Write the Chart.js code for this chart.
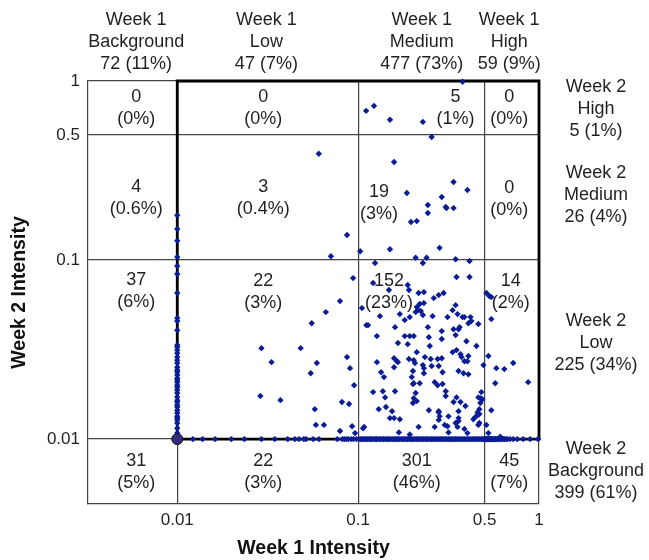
<!DOCTYPE html>
<html>
<head>
<meta charset="utf-8">
<script src="https://cdn.jsdelivr.net/npm/chart.js@4.4.1/dist/chart.umd.min.js"></script>
<style>
html,body{margin:0;padding:0;background:#fff;}
#c{display:block;}
</style>
</head>
<body>
<canvas id="c" width="649" height="560"></canvas>
<script>
// ---------- categories & summary counts ----------
const colNames = ['Background', 'Low', 'Medium', 'High'];          // Week 1
const colCounts = [72, 47, 477, 59];
const colPcts = ['11%', '7%', '73%', '9%'];
const rowNames = ['High', 'Medium', 'Low', 'Background'];          // Week 2 (top to bottom)
const rowCounts = [5, 26, 225, 399];
const rowPcts = ['1%', '4%', '34%', '61%'];
const cellCounts = [
  [0, 0, 5, 0],
  [4, 3, 19, 0],
  [37, 22, 152, 14],
  [31, 22, 301, 45]
];
const cellPcts = [
  ['0%', '0%', '1%', '0%'],
  ['0.6%', '0.4%', '3%', '0%'],
  ['6%', '3%', '23%', '2%'],
  ['5%', '3%', '46%', '7%']
];

// ---------- tick labels ----------
const xTicks = [0.01, 0.1, 0.5, 1];
const yTicks = [0.01, 0.1, 0.5, 1];
const limit = 0.01; // values below the detection limit are drawn at 0.01

// ---------- points: Week 1 background (drawn at x = 0.01) ----------
const bgColMediumY = [0.178, 0.149, 0.128, 0.104];
const bgColLowY = [0.0925,0.0835,0.0655,0.0474,0.0456,0.0406,0.0335,0.0327,0.0314,0.0302,0.0287,0.0276,0.0266,0.0252,0.0243,0.0237,0.0228,0.0219,0.0214,0.0208,0.0200,0.0195,0.0188,0.0181,0.0172,0.0165,0.0161,0.0155,0.0151,0.0145,0.0140,0.0134,0.0131,0.0128,0.0123,0.0115,0.0108];

// ---------- points: Week 2 background (drawn at y = 0.01) ----------
const bgRowLowX = [0.0122,0.0138,0.0162,0.0199,0.0235,0.0292,0.0346,0.0408,0.0447,0.0471,0.0501,0.0515,0.0564,0.0608,0.0767,0.0817,0.0839,0.0861,0.0883,0.0918,0.0942,0.0980];
const bgRowMediumX = [0.101,0.103,0.105,0.107,0.109,0.111,0.113,0.115,0.117,0.119,0.121,0.124,0.126,0.128,0.131,0.133,0.136,0.138,0.141,0.144,0.146,0.149,0.152,0.155,0.158,0.161,0.164,0.167,0.170,0.174,0.177,0.180,0.184,0.187,0.191,0.195,0.198,0.202,0.206,0.210,0.214,0.218,0.222,0.227,0.231,0.236,0.240,0.245,0.250,0.254,0.259,0.264,0.270,0.275,0.280,0.286,0.291,0.297,0.303,0.309,0.315,0.321,0.327,0.333,0.340,0.346,0.353,0.360,0.367,0.374,0.381,0.389,0.396,0.404,0.412,0.420,0.428,0.436,0.445,0.453,0.462,0.471,0.480,0.488,0.496];
const bgRowHighX = [0.503,0.506,0.509,0.512,0.515,0.519,0.522,0.526,0.530,0.534,0.538,0.542,0.546,0.551,0.556,0.561,0.566,0.572,0.578,0.585,0.592,0.600,0.611,0.622,0.635,0.643,0.656,0.668,0.690,0.720,0.758,0.817,0.893,0.988];

// ---------- points: both weeks above background  [week1, week2] ----------
const lowLow = [[0.0554,0.0444],[0.0292,0.0322],[0.0481,0.0322],[0.0332,0.0269],[0.0591,0.0266],[0.0547,0.0233],[0.0288,0.0174],[0.0372,0.0165],[0.0576,0.0147],[0.0584,0.0120],[0.0647,0.0120],[0.0938,0.0793],[0.0794,0.0590],[0.0663,0.0512],[0.0868,0.0287],[0.0902,0.0249],[0.0950,0.0200],[0.0814,0.0161],[0.0891,0.0157],[0.0794,0.0111],[0.0926,0.0118],[0.0962,0.0108]];
const lowMedium = [[0.0606,0.392],[0.0868,0.138],[0.0707,0.105]];
const mediumHigh = [[0.378,0.99],[0.1107,0.681],[0.1224,0.726],[0.150,0.607],[0.228,0.591]];
const mediumMedium = [[0.255,0.487],[0.158,0.353],[0.337,0.273],[0.402,0.246],[0.186,0.237],[0.290,0.225],[0.243,0.203],[0.305,0.198],[0.308,0.195],[0.337,0.195],[0.243,0.183],[0.196,0.163],[0.211,0.165],[0.1026,0.112],[0.150,0.115],[0.282,0.117],[0.208,0.103],[0.239,0.103],[0.346,0.101]];
const highLow = [[0.512,0.0654],[0.531,0.0630],[0.545,0.0621],[0.545,0.0468],[0.525,0.0291],[0.581,0.0249],[0.643,0.0246],[0.720,0.0266],[0.573,0.0205],[0.871,0.0208],[0.545,0.0145],[0.512,0.0120],[0.525,0.0108],[0.611,0.0103]];
const mediumLow = [[0.124,0.0962],[0.121,0.0744],[0.148,0.0680],[0.188,0.0725],[0.191,0.0680],[0.231,0.0662],[0.262,0.0613],
[0.105,0.0539],[0.132,0.0486],[0.111,0.0433],[0.1135,0.0433],[0.170,0.0499],[0.181,0.0462],[0.193,0.0480],[0.211,0.0546],[0.219,0.0568],[0.231,0.0575],[0.214,0.0525],[0.228,0.0493],[0.258,0.0486],[0.222,0.0519],[0.160,0.0422],[0.243,0.0422],[0.127,0.0376],[0.181,0.0376],[0.193,0.0376],[0.203,0.0376],[0.246,0.0371],
[0.166,0.0344],[0.249,0.0331],[0.211,0.0306],[0.127,0.0269],[0.158,0.0283],[0.164,0.0272],[0.166,0.0269],[0.191,0.0280],[0.206,0.0266],[0.234,0.0287],[0.252,0.0280],[0.275,0.0280],[0.158,0.0252],[0.231,0.0249],[0.255,0.0256],[0.134,0.0236],[0.139,0.0222],[0.201,0.0240],[0.198,0.0222],[0.231,0.0233],[0.201,0.0203],[0.265,0.0208],[0.275,0.0200],[0.121,0.0183],[0.137,0.0185],[0.160,0.0185],[0.208,0.0181],[0.203,0.0169],[0.211,0.0163],[0.201,0.0159],[0.141,0.0171],[0.130,0.0147],[0.1425,0.0151],[0.154,0.0143],[0.150,0.0131],[0.158,0.0131],[0.170,0.0129],[0.246,0.0145],[0.1065,0.0115],[0.168,0.0109],[0.216,0.0117],[0.193,0.0106],[0.265,0.0117],[0.188,0.0339],[0.203,0.0276],[0.228,0.0259],[0.203,0.0205],[0.219,0.0205],[0.279,0.0141],[0.279,0.0128],
[0.413,0.0987],[0.350,0.0804],[0.413,0.0804],[0.279,0.0637],[0.297,0.0654],[0.346,0.0560],[0.333,0.0525],[0.3545,0.0499],[0.312,0.0480],[0.378,0.0480],[0.387,0.0480],[0.418,0.0480],[0.423,0.0456],[0.462,0.0439],[0.407,0.0444],[0.337,0.0411],[0.359,0.0411],[0.364,0.0422],[0.290,0.0401],[0.346,0.0381],[0.290,0.0362],[0.397,0.0352],[0.451,0.0331],[0.333,0.0306],[0.350,0.0314],[0.368,0.0298],[0.373,0.0287],[0.407,0.0291],[0.387,0.0272],[0.402,0.0272],[0.290,0.0283],[0.279,0.0256],[0.293,0.0236],[0.359,0.0240],[0.3825,0.0233],[0.407,0.0230],[0.293,0.0203],[0.305,0.0185],[0.305,0.0174],[0.337,0.0161],[0.368,0.0161],[0.350,0.0171],[0.480,0.0183],[0.474,0.0169],[0.462,0.0171],[0.486,0.0167],[0.474,0.0159],[0.468,0.0147],[0.457,0.0141],[0.468,0.0138],[0.279,0.0143],[0.282,0.0134],[0.316,0.0134],[0.359,0.0143],[0.359,0.0131],[0.359,0.0126],[0.301,0.0120],[0.3545,0.0117],[0.445,0.0133],[0.457,0.0136],[0.434,0.0129],[0.387,0.0114],[0.402,0.0108],[0.316,0.0109],[0.462,0.0120],[0.468,0.0123],[0.392,0.0153],[0.493,0.0259],[0.228,0.0962],[0.108,0.0117],[0.346,0.0123],[0.216,0.0654],[0.208,0.0512],[0.312,0.0118]];

// ---------- label anchors (layout only, in axis units) ----------
const headerX = [0.00593, 0.0311, 0.2248, 0.684];
const rowLabelY = [0.926, 0.306, 0.0456, 0.00879];
const cellLabelX = [
  [0.00593, 0.0299, 0.3455, 0.684],
  [0.00593, 0.0299, 0.1304, 0.684],
  [0.00593, 0.0299, 0.148, 0.697],
  [0.00593, 0.0299, 0.211, 0.684]
];
const cellLabelY = [
  [0.814, 0.814, 0.814, 0.814],
  [0.2557, 0.2557, 0.2399, 0.2525],
  [0.0773, 0.0763, 0.0763, 0.0763],
  [0.00754, 0.00754, 0.00754, 0.00754]
];

// ---------- build point list ----------
const pts = [];
bgColMediumY.concat(bgColLowY).forEach(v => pts.push({x: limit, y: v}));
bgRowLowX.concat(bgRowMediumX, bgRowHighX).forEach(v => pts.push({x: v, y: limit}));
[lowLow, lowMedium, mediumHigh, mediumMedium, highLow, mediumLow].forEach(arr =>
  arr.forEach(p => pts.push({x: p[0], y: p[1]})));

const frame = [{x: limit, y: 1}, {x: limit, y: limit}, {x: 1, y: limit}, {x: 1, y: 1}, {x: limit, y: 1}];

const FONT = '"Liberation Sans", Arial, Helvetica, sans-serif';
const TXT = '#231f20';

const annotate = {
  id: 'annotate',
  afterDatasetsDraw(chart) {
    const {ctx, chartArea, scales: {x, y}} = chart;
    ctx.save();
    ctx.font = '18px ' + FONT;
    ctx.fillStyle = TXT;
    ctx.textAlign = 'center';
    ctx.textBaseline = 'middle';
    colNames.forEach((n, i) => {
      const px = x.getPixelForValue(headerX[i]);
      ['Week 1', n, colCounts[i] + ' (' + colPcts[i] + ')'].forEach((t, k) =>
        ctx.fillText(t, px, chartArea.top - 61 + k * 22));
    });
    rowNames.forEach((n, i) => {
      const py = y.getPixelForValue(rowLabelY[i]);
      ['Week 2', n, rowCounts[i] + ' (' + rowPcts[i] + ')'].forEach((t, k) =>
        ctx.fillText(t, chartArea.right + 57, py + k * 22));
    });
    cellCounts.forEach((row, r) => row.forEach((cnt, c) => {
      const px = x.getPixelForValue(cellLabelX[r][c]);
      const py = y.getPixelForValue(cellLabelY[r][c]);
      ctx.fillText(String(cnt), px, py);
      ctx.fillText('(' + cellPcts[r][c] + ')', px, py + 22);
    }));
    ctx.restore();
  }
};

new Chart(document.getElementById('c'), {
  type: 'scatter',
  data: {
    datasets: [
      {
        label: 'origin', data: [{x: limit, y: limit}], order: 0,
        pointStyle: 'circle', pointRadius: 5.5, backgroundColor: '#342d7c',
        borderColor: '#151515', borderWidth: 1, clip: 8
      },
      {
        label: 'genes', data: pts, order: 1,
        pointStyle: 'rectRot', pointRadius: 3.2, backgroundColor: '#0a1c96',
        borderColor: '#0a1c96', borderWidth: 0, clip: 6
      },
      {
        label: 'frame', data: frame, order: 5, showLine: true,
        borderColor: '#000', borderWidth: 2.8, pointRadius: 0,
        borderJoinStyle: 'miter', borderCapStyle: 'square', clip: 6
      }
    ]
  },
  options: {
    responsive: false,
    animation: false,
    layout: {padding: {top: 81, right: 110, left: 0, bottom: 0}},
    plugins: {legend: {display: false}, tooltip: {enabled: false}},
    scales: {
      x: {
        type: 'logarithmic', position: 'bottom', min: 0.00321, max: 1,
        afterBuildTicks: s => { s.ticks = xTicks.map(v => ({value: v})); },
        afterFit: s => { s.height = 56; },
        ticks: {autoSkip: false, maxRotation: 0, padding: 6, color: TXT,
          font: {family: FONT, size: 17}, callback: v => String(v)},
        grid: {color: '#444', lineWidth: 1.2, drawTicks: false},
        border: {display: true, color: '#444', width: 1.2},
        title: {display: true, text: 'Week 1 Intensity', color: '#111',
          font: {family: FONT, size: 19.5, weight: 'bold'}, padding: {top: 0, bottom: 0}}
      },
      y: {
        type: 'logarithmic', position: 'left', min: 0.00434, max: 1,
        afterBuildTicks: s => { s.ticks = yTicks.map(v => ({value: v})); },
        afterFit: s => { s.width = 88; },
        ticks: {autoSkip: false, padding: 8, color: TXT,
          font: {family: FONT, size: 17}, callback: v => String(v)},
        grid: {color: '#444', lineWidth: 1.2, drawTicks: false},
        border: {display: true, color: '#444', width: 1.2},
        title: {display: true, text: 'Week 2 Intensity', color: '#111',
          font: {family: FONT, size: 19.5, weight: 'bold'}, padding: {top: 8, bottom: 0}}
      }
    }
  },
  plugins: [annotate]
});
</script>
</body>
</html>
